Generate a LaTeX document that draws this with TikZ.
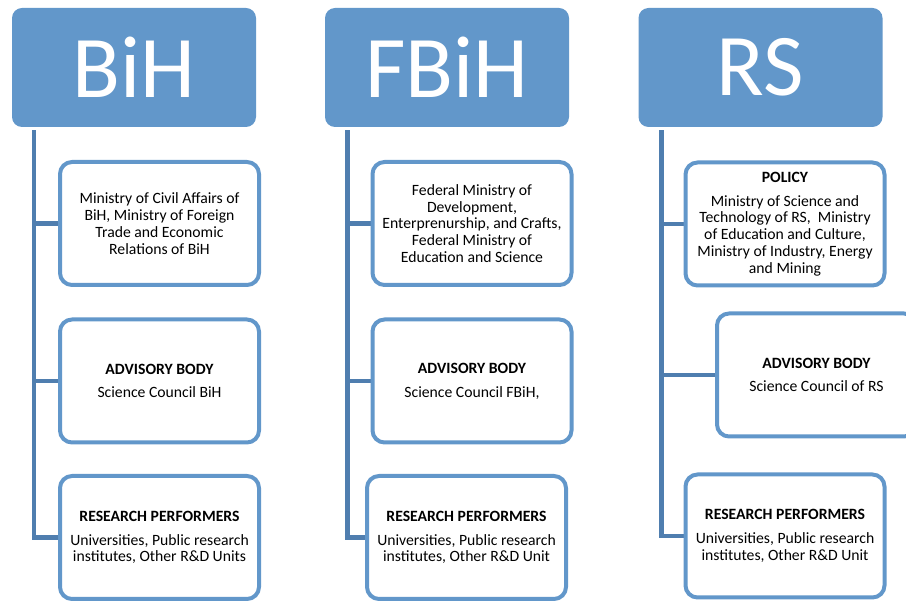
\documentclass[tikz,border=0pt]{standalone}
\usepackage{fontspec}
\setmainfont{Carlito}
\usetikzlibrary{backgrounds}
\definecolor{headblue}{RGB}{98,151,202}
\definecolor{linkblue}{RGB}{79,126,175}

\begin{document}
\begin{tikzpicture}[x=1pt, y=-1pt,
    head/.style={fill=headblue, rounded corners=10pt, minimum width=244pt,
      minimum height=119pt, inner sep=0pt, text=white,
      font=\fontsize{88}{88}\selectfont},
    unit/.style={draw=headblue, line width=4pt, fill=white, rounded corners=12pt,
      minimum width=199pt, minimum height=123pt, inner sep=2pt, align=center,
      font=\fontsize{15.7}{16.8}\selectfont},
    link/.style={draw=linkblue, line width=4.5pt}]
    \clip (0, 0) rectangle (906, 601);

    \node[head] (bih) at (134, 67.5) {BiH};
    \node[head] (fbih) at (447, 67.5) {FBiH};
    \node[head] (rs) at (760.5, 67.5) {RS};

    \node[unit] (bihA) at (159.5, 223.5) {Ministry of Civil Affairs of\\BiH, Ministry of Foreign\\Trade and Economic\\Relations of BiH};
    \node[unit] (bihB) at (159.5, 381) {\textbf{ADVISORY BODY}\\[7pt]Science Council BiH};
    \node[unit] (bihC) at (159.5, 537.5) {\textbf{RESEARCH PERFORMERS}\\[7pt]Universities, Public research\\institutes, Other R\&D Units};

    \node[unit] (fbihA) at (472, 223.5) {Federal Ministry of\\Development,\\Enterprenurship, and Crafts,\\Federal Ministry of\\Education and Science};
    \node[unit] (fbihB) at (472, 381) {\textbf{ADVISORY BODY}\\[7pt]Science Council FBiH,};
    \node[unit] (fbihC) at (466.5, 537.5) {\textbf{RESEARCH PERFORMERS}\\[7pt]Universities, Public research\\institutes, Other R\&D Unit};

    \node[unit] (rsA) at (785, 224) {\textbf{POLICY}\\[7pt]Ministry of Science and\\Technology of RS,\ \ Ministry\\of Education and Culture,\\Ministry of Industry, Energy\\and Mining};
    \node[unit] (rsB) at (816.5, 375) {\textbf{ADVISORY BODY}\\[7pt]Science Council of RS};
    \node[unit] (rsC) at (785, 536) {\textbf{RESEARCH PERFORMERS}\\[7pt]Universities, Public research\\institutes, Other R\&D Unit};

    \coordinate (bihtop) at ([xshift=22pt, yshift=-3pt]bih.south west);
    \coordinate (fbihtop) at ([xshift=22.5pt, yshift=-3pt]fbih.south west);
    \coordinate (rstop) at ([xshift=23pt, yshift=-3pt]rs.south west);

    \begin{scope}[on background layer]
      \draw[link] (bihtop) |- (bihC.west);
      \draw[link] (bihA.west) -- (bihA.west -| bihtop);
      \draw[link] (bihB.west) -- (bihB.west -| bihtop);

      \draw[link] (fbihtop) |- (fbihC.west);
      \draw[link] (fbihA.west) -- (fbihA.west -| fbihtop);
      \draw[link] (fbihB.west) -- (fbihB.west -| fbihtop);

      \draw[link] (rstop) |- (rsC.west);
      \draw[link] (rsA.west) -- (rsA.west -| rstop);
      \draw[link] (rsB.west) -- (rsB.west -| rstop);
    \end{scope}
  \end{tikzpicture}
\end{document}
